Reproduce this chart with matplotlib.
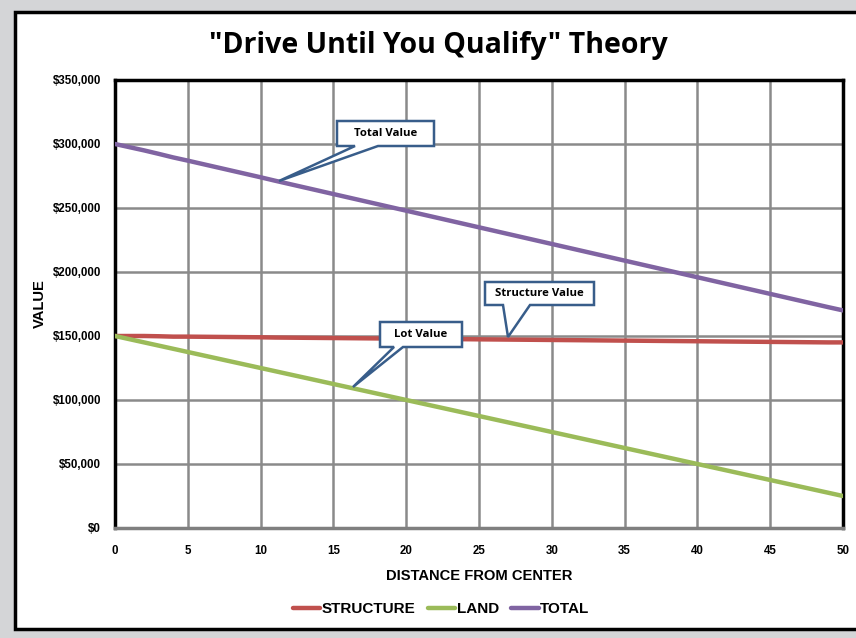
import matplotlib.pyplot as plt
from matplotlib.patches import Rectangle, Polygon
from matplotlib.ticker import FuncFormatter

# ---- data ----
distance = list(range(0, 51))
structure = [150000, 150000, 150000, 149800, 149500, 149500, 149400, 149300, 149200, 149100,
             149000, 148800, 148700, 148600, 148500, 148400, 148300, 148200, 148100, 148000,
             147900, 147800, 147700, 147600, 147500, 147400, 147300, 147200, 147100, 147000,
             146900, 146800, 146700, 146600, 146500, 146400, 146300, 146200, 146100, 146000,
             145900, 145800, 145700, 145600, 145500, 145400, 145300, 145200, 145100, 145000,
             145000]
land = [150000, 147500, 145000, 142500, 140000, 137500, 135000, 132500, 130000, 127500,
        125000, 122500, 120000, 117500, 115000, 112500, 110000, 107500, 105000, 102500,
        100000, 97500, 95000, 92500, 90000, 87500, 85000, 82500, 80000, 77500,
        75000, 72500, 70000, 67500, 65000, 62500, 60000, 57500, 55000, 52500,
        50000, 47500, 45000, 42500, 40000, 37500, 35000, 32500, 30000, 27500,
        25000]
total = [300000, 297500, 295000, 292300, 289500, 287000, 284400, 281800, 279200, 276600,
         274000, 271300, 268700, 266100, 263500, 260900, 258300, 255700, 253100, 250500,
         247900, 245300, 242700, 240100, 237500, 234900, 232300, 229700, 227100, 224500,
         221900, 219300, 216700, 214100, 211500, 208900, 206300, 203700, 201100, 198500,
         195900, 193300, 190700, 188100, 185500, 182900, 180300, 177700, 175100, 172500,
         170000]
series_names = ["STRUCTURE", "LAND", "TOTAL"]
colors = ["#c0504d", "#9bbb59", "#8064a2"]

# callouts: text, box (x0, y0, x1, y1 in px), wedge base xs, tip (px)
callouts = [
    ("Total Value", (337, 121, 434, 146), (355, 378), (279, 181)),
    ("Structure Value", (485, 282, 594, 305), (503, 530), (508, 337)),
    ("Lot Value", (380, 322, 462, 347), (394, 403), (353, 387)),
]

W, H = 856, 638
fig = plt.figure(figsize=(W / 100, H / 100), dpi=100)
fig.patch.set_facecolor("#d4d5d7")

# white panel with black frame
panel = Rectangle((15 / W, 1 - 629 / H), (W + 10 - 15) / W, (629 - 12) / H,
                  transform=fig.transFigure, facecolor="white", edgecolor="black",
                  linewidth=2.5, zorder=-5)
fig.patches.append(panel)

ax = fig.add_axes([115 / W, 1 - 528 / H, (843 - 115) / W, (528 - 80) / H])
ax.set_facecolor("white")

for vals, name, c in zip([structure, land, total], series_names, colors):
    ax.plot(distance, vals, color=c, lw=3.2, label=name, solid_capstyle="round", zorder=3)

ax.set_xlim(0, 50)
ax.set_ylim(0, 350000)
ax.set_xticks(range(0, 51, 5))
ax.set_yticks(range(0, 350001, 50000))
ax.yaxis.set_major_formatter(FuncFormatter(lambda v, p: "${:,.0f}".format(v)))
ax.grid(True, color="#8a8a8a", lw=1.8, zorder=1)
ax.set_axisbelow(True)
ax.tick_params(length=0, labelsize=8.3)
ax.tick_params(axis="y", pad=10)
ax.tick_params(axis="x", pad=12)
for lab in ax.get_xticklabels() + ax.get_yticklabels():
    lab.set_fontweight("bold")
    lab.set_family("Liberation Sans")

for s in ["left", "top", "right"]:
    ax.spines[s].set_color("black")
    ax.spines[s].set_linewidth(2.5)
ax.spines["bottom"].set_color("#7f7f7f")
ax.spines["bottom"].set_linewidth(2.5)

ax.set_xlabel("DISTANCE FROM CENTER", fontsize=10.6, fontweight="bold",
              family="Liberation Sans", labelpad=9)
ax.set_ylabel("VALUE", fontsize=10.6, fontweight="bold", family="Liberation Sans")
ax.yaxis.set_label_coords(-0.093, 0.5)

fig.text(438 / W, 1 - 45 / H, '"Drive Until You Qualify" Theory', ha="center", va="center",
         fontsize=20.5, fontweight="bold", family="Open Sans")

# callout shapes in pixel space -> figure fraction
def fp(x, y):
    return (x / W, 1 - y / H)

for text, (x0, y0, x1, y1), (b0, b1), (tx, ty) in callouts:
    pts = [fp(x0, y0), fp(x1, y0), fp(x1, y1), fp(b1, y1), fp(tx, ty), fp(b0, y1), fp(x0, y1)]
    poly = Polygon(pts, closed=True, transform=fig.transFigure, facecolor="white",
                   edgecolor="#385d8a", linewidth=1.8, joinstyle="miter", zorder=5)
    fig.patches.append(poly)
    fig.text((x0 + x1) / 2 / W, 1 - (y0 + y1) / 2 / H, text, ha="center", va="center",
             fontsize=8.2, fontweight="bold", family="Open Sans", zorder=6)

leg = fig.legend(loc="center", bbox_to_anchor=(441 / W, 1 - 609 / H), ncol=3, frameon=False,
                 handlelength=1.8, handletextpad=0.1, columnspacing=0.8,
                 prop={"family": "Liberation Sans", "size": 11})
for t in leg.get_texts():
    t.set_fontweight("bold")

fig.savefig("out.png", dpi=100, facecolor=fig.get_facecolor())
